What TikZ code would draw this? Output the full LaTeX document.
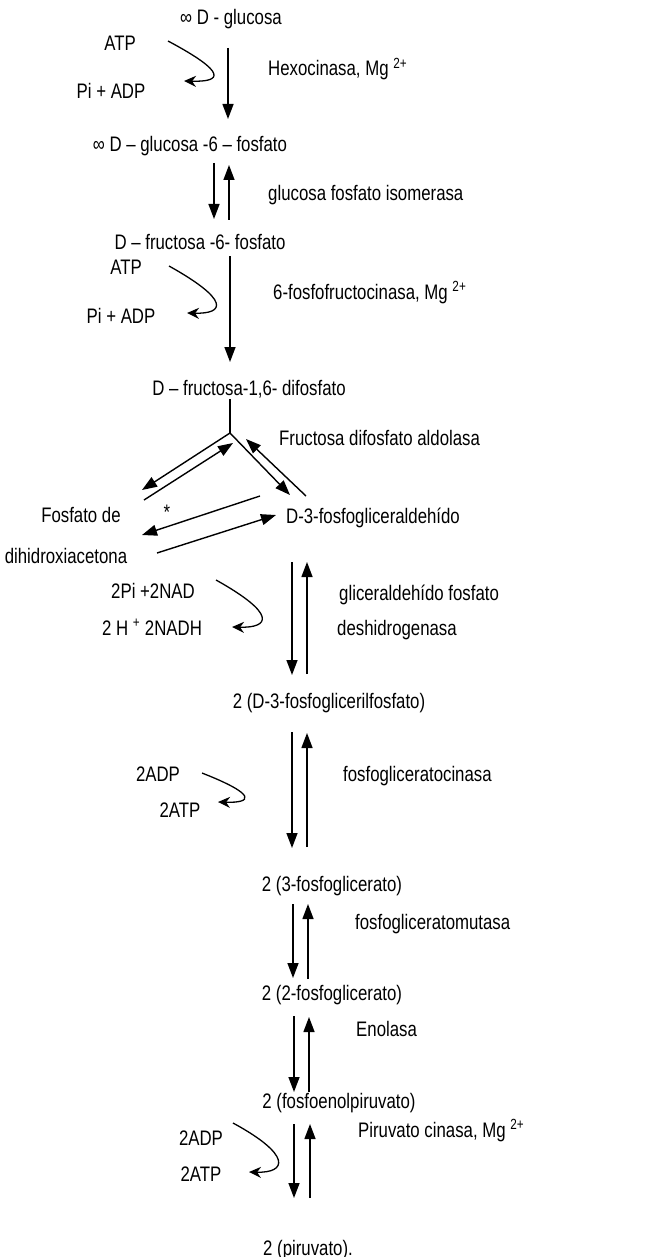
\documentclass[tikz,border=0pt]{standalone}
\usepackage{fontspec}
\setmainfont[FakeStretch=0.8]{Liberation Sans}
\usetikzlibrary{arrows.meta}
\tikzset{%
  >={Triangle[width=11pt,length=15pt]},
  % Styles for the text nodes:
        txt/.style = {inner sep=0pt, anchor=base,
                      font=\fontsize{21}{25}\selectfont},
  substrate/.style = {txt},
   cofactor/.style = {txt},
     enzyme/.style = {txt, anchor=base west},
  % Styles for the arrows:
  stepArrow/.style = {->, line width=1.4pt},
   cofArrow/.style = {-{Stealth[width=11pt,length=12pt]}, line width=1.3pt},
}

\begin{document}
\begin{tikzpicture}[x=1pt, y=-1pt]
  \useasboundingbox (0,0) rectangle (660,1257);
  % Metabolites along the pathway
  \node (glucosa)   [substrate] at (231,25)   {∞ D - glucosa};
  \node (g6p)       [substrate] at (190,152)  {∞ D – glucosa -6 – fosfato};
  \node (f6p)       [substrate] at (200,250)  {D – fructosa -6- fosfato};
  \node (f16bp)     [substrate] at (249,395)  {D – fructosa-1,6- difosfato};
  \node (dhap)      [substrate] at (81,522)   {Fosfato de};
  \node (dhapCont)  [substrate] at (66,563)   {dihidroxiacetona};
  \node (gap)       [substrate] at (373,523)  {D-3-fosfogliceraldehído};
  \node (bpg)       [substrate] at (329,708)  {2 (D-3-fosfoglicerilfosfato)};
  \node (pg3)       [substrate] at (332,891)  {2 (3-fosfoglicerato)};
  \node (pg2)       [substrate] at (332,1000) {2 (2-fosfoglicerato)};
  \node (pep)       [substrate] at (339,1108) {2 (fosfoenolpiruvato)};
  \node (pyr)       [substrate] at (308,1255) {2 (piruvato).};
  \node (star)      [txt]       at (167,519)  {*};

  % Cofactors on the left
  \node (atpA)  [cofactor] at (120,51)   {ATP};
  \node (adpA)  [cofactor] at (111,99)   {Pi + ADP};
  \node (atpB)  [cofactor] at (126,274)  {ATP};
  \node (adpB)  [cofactor] at (121,323)  {Pi + ADP};
  \node (nad)   [cofactor] at (153,598)  {2Pi +2NAD};
  \node (nadh)  [cofactor] at (152,635)  {2 H \textsuperscript{+} 2NADH};
  \node (adpC)  [cofactor] at (158,781)  {2ADP};
  \node (atpC)  [cofactor] at (180,817)  {2ATP};
  \node (adpD)  [cofactor] at (201,1145) {2ADP};
  \node (atpD)  [cofactor] at (201,1181) {2ATP};

  % Enzymes on the right
  \node (hexo)   [enzyme] at (268,76)   {Hexocinasa, Mg \textsuperscript{2+}};
  \node (gpi)    [enzyme] at (268,201)  {glucosa fosfato isomerasa};
  \node (pfk)    [enzyme] at (273,299)  {6-fosfofructocinasa, Mg \textsuperscript{2+}};
  \node (aldo)   [enzyme] at (279,445)  {Fructosa difosfato aldolasa};
  \node (gapdhA) [enzyme] at (339,600)  {gliceraldehído fosfato};
  \node (gapdhB) [enzyme] at (337,635)  {deshidrogenasa};
  \node (pgk)    [enzyme] at (343,781)  {fosfogliceratocinasa};
  \node (pgm)    [enzyme] at (355,929)  {fosfogliceratomutasa};
  \node (eno)    [enzyme] at (356,1036) {Enolasa};
  \node (pk)     [enzyme] at (358,1137) {Piruvato cinasa, Mg \textsuperscript{2+}};

  \coordinate (split) at (230,433);

  % Reaction arrows
  \draw[stepArrow] ([shift={(-3,23)}]glucosa.base) -- ([shift={(38,-33)}]g6p.base);
  \draw[stepArrow] ([shift={(24,11)}]g6p.base) -- ([shift={(14,-31)}]f6p.base);
  \draw[stepArrow] ([shift={(29,-30)}]f6p.base) -- ([shift={(39,13)}]g6p.base);
  \draw[stepArrow] ([shift={(30,6)}]f6p.base) -- ([shift={(-19,-33)}]f16bp.base);
  \draw[line width=1.4pt] ([shift={(-19,4)}]f16bp.base) -- (split);
  \draw[stepArrow] (split) -- ([shift={(61,-32)}]dhap.base);
  \draw[stepArrow] ([shift={(63,-22)}]dhap.base) -- ([shift={(3,10)}]split);
  \draw[stepArrow] (split) -- ([shift={(-83,-28)}]gap.base);
  \draw[stepArrow] ([shift={(-67,-27)}]gap.base) -- ([shift={(16,6)}]split);
  \draw[stepArrow] ([shift={(-113,-27)}]gap.base) -- ([shift={(61,13)}]dhap.base);
  \draw[stepArrow] ([shift={(91,-10)}]dhapCont.base) -- ([shift={(-97,-8)}]gap.base);
  \draw[stepArrow] ([shift={(-81,39)}]gap.base) -- ([shift={(-37,-33)}]bpg.base);
  \draw[stepArrow] ([shift={(-22,-34)}]bpg.base) -- ([shift={(-66,39)}]gap.base);
  \draw[stepArrow] ([shift={(-37,24)}]bpg.base) -- ([shift={(-40,-43)}]pg3.base);
  \draw[stepArrow] ([shift={(-25,-44)}]pg3.base) -- ([shift={(-22,25)}]bpg.base);
  \draw[stepArrow] ([shift={(-39,13)}]pg3.base) -- ([shift={(-39,-22)}]pg2.base);
  \draw[stepArrow] ([shift={(-24,-21)}]pg2.base) -- ([shift={(-24,13)}]pg3.base);
  \draw[stepArrow] ([shift={(-38,16)}]pg2.base) -- ([shift={(-45,-16)}]pep.base);
  \draw[stepArrow] ([shift={(-30,-16)}]pep.base) -- ([shift={(-23,17)}]pg2.base);
  \draw[stepArrow] ([shift={(-45,16)}]pep.base) -- ([shift={(-14,-57)}]pyr.base);
  \draw[stepArrow] ([shift={(2,-57)}]pyr.base) -- ([shift={(-29,16)}]pep.base);

  % Cofactor turns
  \draw[cofArrow] ([shift={(48,-10)}]atpA.base) .. controls +(60,32) and +(38,1) .. ([shift={(73,-18)}]adpA.base);
  \draw[cofArrow] ([shift={(43,-8)}]atpB.base) .. controls +(61,34) and +(38,1) .. ([shift={(66,-10)}]adpB.base);
  \draw[cofArrow] ([shift={(63,-18)}]nad.base) .. controls +(61,34) and +(38,1) .. ([shift={(80,-8)}]nadh.base);
  \draw[cofArrow] ([shift={(44,-8)}]adpC.base) .. controls +(56,22) and +(34,1) .. ([shift={(38,-15)}]atpC.base);
  \draw[cofArrow] ([shift={(32,-22)}]adpD.base) .. controls +(59,32) and +(38,1) .. ([shift={(48,-9)}]atpD.base);
\end{tikzpicture}
\end{document}
